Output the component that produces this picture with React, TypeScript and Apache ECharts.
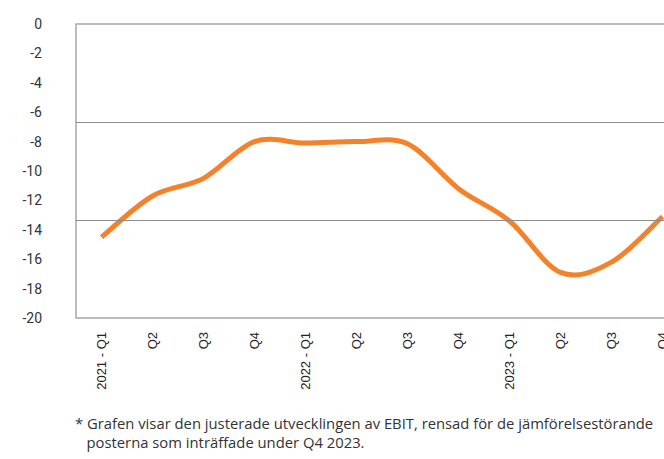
import React, { useEffect, useRef } from "react";
import * as echarts from "echarts";

const categories = [
  "2021 - Q1", "Q2", "Q3", "Q4",
  "2022 - Q1", "Q2", "Q3", "Q4",
  "2023 - Q1", "Q2", "Q3", "Q4",
];
const ebitValues = [-14.5, -11.7, -10.5, -8.0, -8.1, -8.0, -8.15, -11.2, -13.4, -16.9, -16.2, -13.1];
const refLines = [-20 / 3, -40 / 3];
const footnoteLines = [
  "* Grafen visar den justerade utvecklingen av EBIT, rensad för de jämförelsestörande",
  "   posterna som inträffade under Q4 2023.",
];

export default function App() {
  const ref = useRef<HTMLDivElement>(null);
  useEffect(() => {
    if (!ref.current) return;
    const chart = echarts.init(ref.current, null, { renderer: "svg" });
    chart.setOption({
      animation: false,
      grid: {
        left: 76,
        top: 24,
        width: 612,
        height: 294,
        show: true,
        borderColor: "#a6a6a6",
        borderWidth: 1.5,
        containLabel: false,
      },
      xAxis: {
        type: "category",
        data: categories,
        boundaryGap: true,
        axisLine: { show: false },
        axisTick: { show: false },
        axisLabel: {
          rotate: 90,
          margin: 14,
          fontSize: 13,
          color: "#222",
          fontFamily: "Liberation Sans, Arial, sans-serif",
          interval: 0,
        },
      },
      yAxis: {
        type: "value",
        min: -20,
        max: 0,
        interval: 2,
        axisLine: { show: false },
        axisTick: { show: false },
        splitLine: { show: false },
        axisLabel: {
          fontSize: 14,
          color: "#333",
          margin: 34,
          fontFamily: "Roboto, sans-serif",
        },
      },
      series: [
        {
          type: "line",
          data: ebitValues,
          symbol: "none",
          lineStyle: { opacity: 0 },
          markLine: {
            silent: true,
            symbol: "none",
            label: { show: false },
            lineStyle: { color: "#8c8c8c", width: 1, type: "solid" },
            data: refLines.map((v) => ({ yAxis: v })),
          },
          z: 1,
        },
        {
          type: "custom",
          data: ebitValues.map((v, i) => [i, v]),
          z: 3,
          renderItem: (params: any, api: any) => {
            if (params.dataIndex !== 0) return null;
            const pts = ebitValues.map((v, i) => api.coord([i, v]));
            const n = pts.length;
            let d = `M${pts[0][0]},${pts[0][1]}`;
            for (let i = 0; i < n - 1; i++) {
              const p0 = pts[Math.max(i - 1, 0)];
              const p1 = pts[i];
              const p2 = pts[i + 1];
              const p3 = pts[Math.min(i + 2, n - 1)];
              const c1x = p1[0] + (p2[0] - p0[0]) / 6;
              const c1y = p1[1] + (p2[1] - p0[1]) / 6;
              const c2x = p2[0] - (p3[0] - p1[0]) / 6;
              const c2y = p2[1] - (p3[1] - p1[1]) / 6;
              d += ` C${c1x},${c1y} ${c2x},${c2y} ${p2[0]},${p2[1]}`;
            }
            return {
              type: "path",
              shape: { pathData: d },
              style: { stroke: "#F5822A", lineWidth: 5, fill: "none", lineJoin: "round" },
            };
          },
        },
      ],
      graphic: footnoteLines.map((t, i) => ({
        type: "text",
        left: 75,
        top: 415 + i * 19,
        style: {
          text: t,
          fontSize: 14.8,
          fill: "#333",
          fontFamily: "Open Sans, sans-serif",
        },
      })),
    });
    return () => chart.dispose();
  }, []);
  return (
    <div style={{ position: "absolute", left: 0, top: 0, width: 664, height: 459, overflow: "hidden", background: "#fff" }}>
      <div ref={ref} style={{ width: 700, height: 459 }} />
    </div>
  );
}
